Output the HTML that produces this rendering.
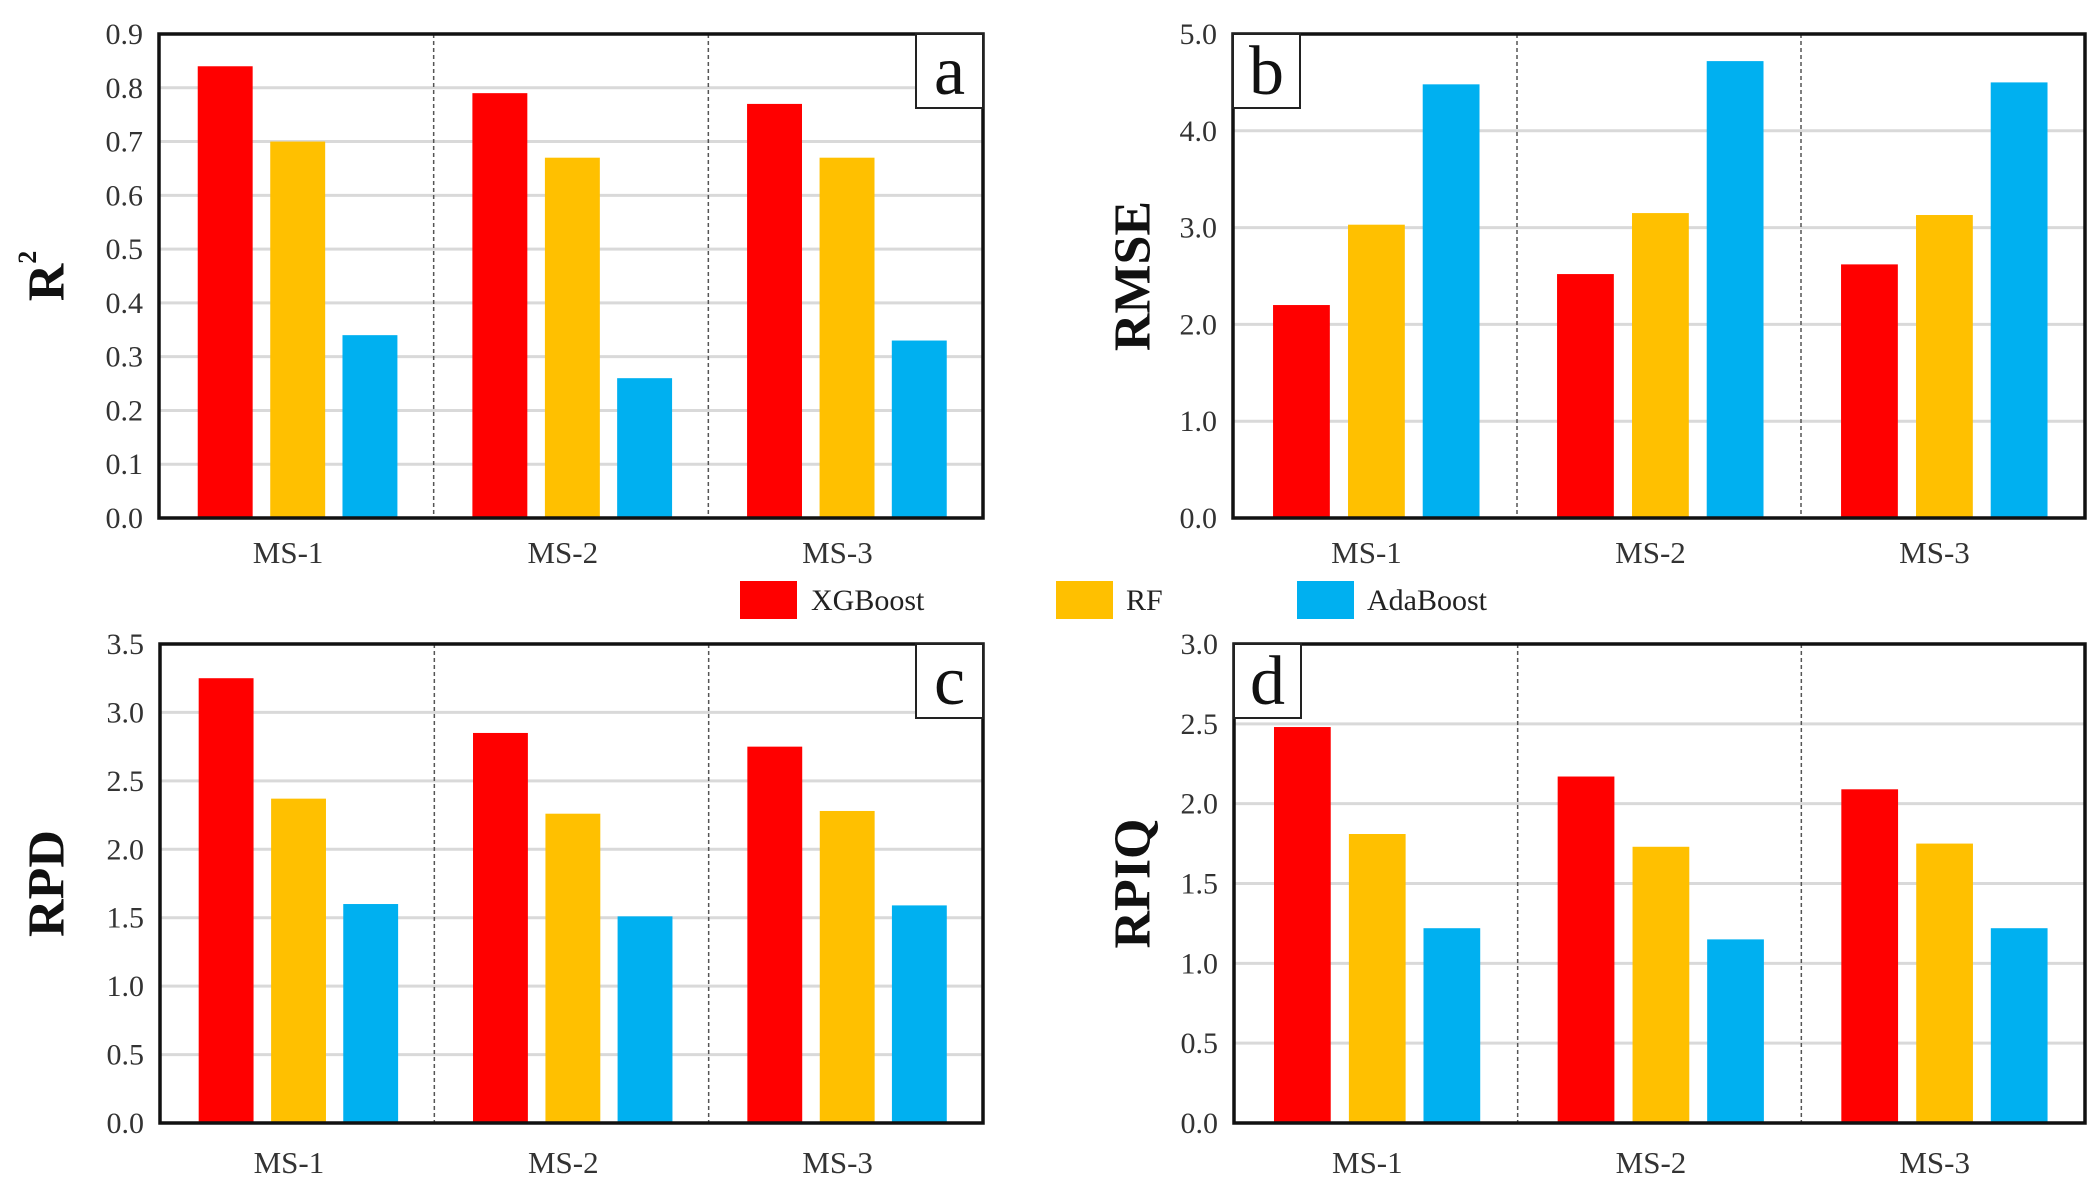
<!DOCTYPE html>
<html><head><meta charset="utf-8"><style>
html,body{margin:0;padding:0;background:#fff;}
svg{display:block;font-family:"Liberation Serif",serif;}
</style></head><body>
<svg id="chart" width="2100" height="1190" viewBox="0 0 2100 1190" xmlns="http://www.w3.org/2000/svg">
<rect width="2100" height="1190" fill="#fff"/>
<g id="legend">
<rect x="740" y="581" width="57" height="38" fill="#ff0000"/>
<text x="811" y="610" font-size="30" fill="#222">XGBoost</text>
<rect x="1056" y="581" width="57" height="38" fill="#ffc000"/>
<text x="1126" y="610" font-size="30" fill="#222">RF</text>
<rect x="1297" y="581" width="57" height="38" fill="#00b0f0"/>
<text x="1367" y="610" font-size="30" fill="#222">AdaBoost</text>
</g>
</svg>
<script>
const categories = ["MS-1","MS-2","MS-3"];
const seriesNames = ["XGBoost","RF","AdaBoost"];
const r2XGB = [0.84,0.79,0.77];
const r2RF = [0.70,0.67,0.67];
const r2Ada = [0.34,0.26,0.33];
const rmseXGB = [2.20,2.52,2.62];
const rmseRF = [3.03,3.15,3.13];
const rmseAda = [4.48,4.72,4.50];
const rpdXGB = [3.25,2.85,2.75];
const rpdRF = [2.37,2.26,2.28];
const rpdAda = [1.60,1.51,1.59];
const rpiqXGB = [2.48,2.17,2.09];
const rpiqRF = [1.81,1.73,1.75];
const rpiqAda = [1.22,1.15,1.22];
const r2Ticks = ["0.0","0.1","0.2","0.3","0.4","0.5","0.6","0.7","0.8","0.9"];
const rmseTicks = ["0.0","1.0","2.0","3.0","4.0","5.0"];
const rpdTicks = ["0.0","0.5","1.0","1.5","2.0","2.5","3.0","3.5"];
const rpiqTicks = ["0.0","0.5","1.0","1.5","2.0","2.5","3.0"];

const colors = ["#ff0000","#ffc000","#00b0f0"];
const NS = "http://www.w3.org/2000/svg";
const svg = document.getElementById("chart");
function mk(tag, attrs, parent){
  const e = document.createElementNS(NS, tag);
  for (const k in attrs) e.setAttribute(k, attrs[k]);
  parent.appendChild(e);
  return e;
}
const panels = [
  {id:"a", title:"R", sup:true, L:159, R:983, T:34, B:518, ticks:r2Ticks, series:[r2XGB,r2RF,r2Ada], labelPos:"right", titleX:47, catY:563},
  {id:"b", title:"RMSE", L:1233, R:2085, T:34, B:518, ticks:rmseTicks, series:[rmseXGB,rmseRF,rmseAda], labelPos:"left", titleX:1133, catY:563},
  {id:"c", title:"RPD", L:160, R:983, T:644, B:1123, ticks:rpdTicks, series:[rpdXGB,rpdRF,rpdAda], labelPos:"right", titleX:47, catY:1173},
  {id:"d", title:"RPIQ", L:1234, R:2085, T:644, B:1123, ticks:rpiqTicks, series:[rpiqXGB,rpiqRF,rpiqAda], labelPos:"left", titleX:1133, catY:1173}
];
panels.forEach(p => {
  const g = mk("g", {}, svg);
  
  
  const maxV = parseFloat(p.ticks[p.ticks.length-1]);
  const y = v => p.B - (v/maxV)*(p.B-p.T);
  const gw = (p.R-p.L)/categories.length;
  p.ticks.forEach(t => {
    const v = parseFloat(t), yy = y(v);
    if (v>0 && v<maxV) {
      const gl = mk("line", {x1:p.L, x2:p.R, y1:yy, y2:yy, stroke:"#d9d9d9", "stroke-width":3}, g);
      
      
    }
    const tl = mk("text", {x:p.L-16, y:yy+10, "text-anchor":"end", "font-size":30, fill:"#333"}, g);
    tl.textContent = t;
    
    
  });
  for (let i=1;i<categories.length;i++){
    const dl = mk("line", {x1:p.L+gw*i, x2:p.L+gw*i, y1:p.T, y2:p.B, stroke:"#555", "stroke-width":1.5, "stroke-dasharray":"4,3"}, g);
    
    
  }
  const offs = [0.141,0.405,0.668], bw = gw*0.2;
  p.series.forEach((s, si) => {
    s.forEach((v, ci) => {
      const x = p.L + gw*ci + gw*offs[si];
      const r = mk("rect", {x:x, y:y(v), width:bw, height:p.B-y(v), fill:colors[si]}, g);
      
      
    });
  });
  categories.forEach((c, ci) => {
    const t = mk("text", {x:p.L+gw*ci+gw*0.47, y:p.catY, "text-anchor":"middle", "font-size":31, fill:"#333"}, g);
    t.textContent = c;
    
    
  });
  const fr = mk("rect", {x:p.L, y:p.T, width:p.R-p.L, height:p.B-p.T, fill:"none", stroke:"#111", "stroke-width":3.5}, g);
  
  
  const bx = p.labelPos==="right" ? p.R-67 : p.L;
  const lb = mk("rect", {x:bx, y:p.T, width:67, height:74, fill:"#fff", stroke:"#222", "stroke-width":2}, g);
  
  
  const lt = mk("text", {x:bx+33.5, y:p.T+60, "text-anchor":"middle", "font-size":70, fill:"#111"}, g);
  lt.textContent = p.id;
  
  
  const cy = (p.T+p.B)/2;
  const yt = mk("text", {x:p.titleX, y:cy, transform:"rotate(-90 "+p.titleX+" "+cy+")", "text-anchor":"middle", "dominant-baseline":"central", "font-size":52, "font-weight":"bold", fill:"#111"}, g);
  yt.textContent = p.title;
  if (p.sup) {
    const ts = document.createElementNS(NS, "tspan");
    ts.setAttribute("font-size", "26");
    ts.setAttribute("dy", "-20");
    ts.textContent = "2";
    yt.appendChild(ts);
  }
  
  
});
</script>
</body></html>
